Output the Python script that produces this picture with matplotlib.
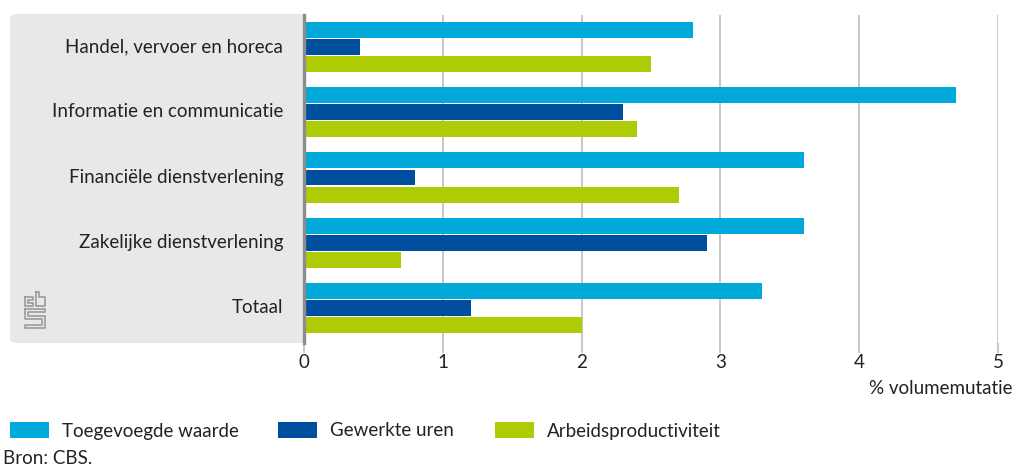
import matplotlib.pyplot as plt
import numpy as np
from matplotlib.patches import FancyBboxPatch, Rectangle
from matplotlib.lines import Line2D

plt.rcParams['font.family'] = ['Lato', 'DejaVu Sans']

categories = ['Handel, vervoer en horeca', 'Informatie en communicatie',
              'Financiële dienstverlening', 'Zakelijke dienstverlening', 'Totaal']
series_names = ['Toegevoegde waarde', 'Gewerkte uren', 'Arbeidsproductiviteit']
toegevoegd = [2.8, 4.7, 3.6, 3.6, 3.3]
uren = [0.4, 2.3, 0.8, 2.9, 1.2]
productiviteit = [2.5, 2.4, 2.7, 0.7, 2.0]
xticks = [0, 1, 2, 3, 4, 5]

colors = ['#00a9d9', '#004f9f', '#afcb05']
txt = '#222222'
fs = 13.5
W, H = 1013, 466


def fx(px):
    return px / W


def fy(py):
    return 1 - py / H


fig = plt.figure(figsize=(W / 100, H / 100), dpi=100)
ax = fig.add_axes([fx(304), fy(343), fx(998) - fx(304), fy(15) - fy(343)])
ax.set_facecolor('none')

# grey panel behind category labels
panel = FancyBboxPatch((fx(10), fy(343)), fx(294), fy(14) - fy(343),
                       boxstyle='round,pad=0,rounding_size=0.008',
                       transform=fig.transFigure, fc='#e8e8e8', ec='none', zorder=-2)
fig.patches.append(panel)
fig.patches.append(Rectangle((fx(200), fy(343)), fx(104), fy(14) - fy(343),
                             transform=fig.transFigure, fc='#e8e8e8', ec='none', zorder=-2))

y = np.arange(len(categories))
h = 0.245
off = 0.262
for vals, col, dy, name in zip([toegevoegd, uren, productiviteit], colors, [-off, 0, off], series_names):
    ax.barh(y + dy, vals, height=h, color=col, label=name, zorder=3)

ax.set_xlim(0, 5)
ax.set_ylim(4.536, -0.49)
ax.set_yticks(y - 0.03)
ax.set_yticklabels(categories, fontsize=fs, color=txt)
ax.tick_params(axis='y', length=0, pad=15)
ax.set_xticks(xticks)
ax.set_xticklabels([str(t) for t in xticks], fontsize=fs, color=txt)
ax.tick_params(axis='x', length=7, width=1.2, color='#bdbdbd', pad=1)
ax.grid(axis='x', color='#bdbdbd', lw=1.2, zorder=1)
for s in ['top', 'right', 'bottom']:
    ax.spines[s].set_visible(False)
ax.spines['left'].set_color('#8c8c8c')
ax.spines['left'].set_linewidth(2.4)
ax.spines['left'].set_zorder(4)

fig.text(fx(1012), fy(389), '% volumemutatie', ha='right', va='center', fontsize=fs, color=txt)

# legend, drawn by hand to match positions
leg_x = [10, 278, 495]
for lx, col, name in zip(leg_x, colors, series_names):
    fig.patches.append(Rectangle((fx(lx), fy(438)), fx(39), fy(422) - fy(438),
                                 transform=fig.transFigure, fc=col, ec='none'))
    fig.text(fx(lx + 52), fy(431), name, ha='left', va='center', fontsize=fs, color=txt)

fig.text(fx(3), fy(458), 'Bron: CBS.', ha='left', va='center', fontsize=fs, color=txt)

# cbs logo (simple line drawing)
logo = [
    [(25, 297), (33, 297), (33, 300), (28, 300), (28, 303), (33, 303), (33, 306), (25, 306), (25, 297)],
    [(36, 292), (39, 292), (39, 297), (45, 297), (45, 306), (36, 306), (36, 292)],
    [(25, 309), (45, 309), (45, 312), (28, 312), (28, 316), (45, 316), (45, 328), (25, 328), (25, 325),
     (42, 325), (42, 319), (25, 319), (25, 309)],
]
for pts in logo:
    xs = [fx(p[0]) for p in pts]
    ys = [fy(p[1]) for p in pts]
    fig.lines.append(Line2D(xs, ys, transform=fig.transFigure, color='#9a9a9a', lw=1.2))

fig.savefig('out.png', dpi=100)
